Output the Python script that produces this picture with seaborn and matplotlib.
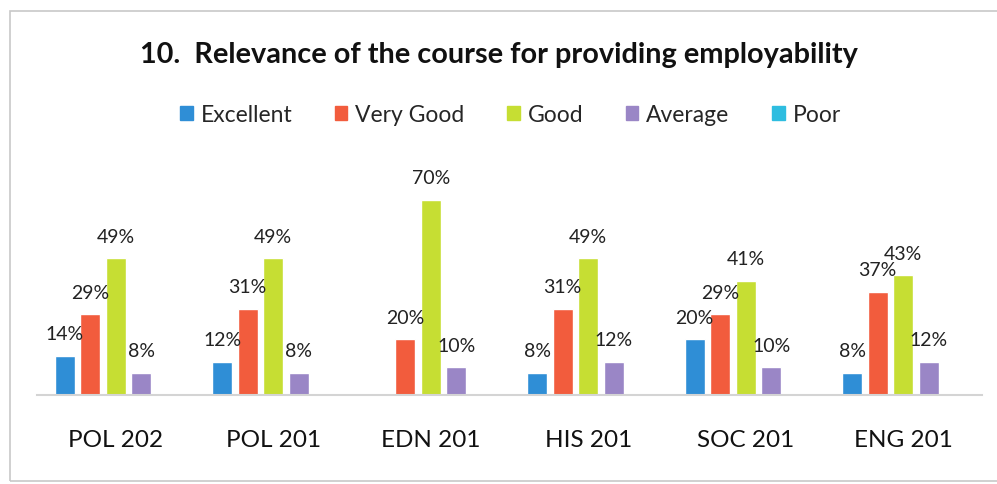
import matplotlib
matplotlib.use("Agg")
import matplotlib.pyplot as plt
import seaborn as sns
import pandas as pd
from matplotlib.patches import Rectangle

categories = ["POL 202", "POL 201", "EDN 201", "HIS 201", "SOC 201", "ENG 201"]
series = ["Excellent", "Very Good", "Good", "Average", "Poor"]
excellent = [14, 12, 0, 8, 20, 8]
very_good = [29, 31, 20, 31, 29, 37]
good = [49, 49, 70, 49, 41, 43]
average = [8, 8, 10, 12, 10, 12]
poor = [0, 0, 0, 0, 0, 0]
colors = ["#2F8ED6", "#F25C3D", "#C6DE33", "#9A86C6", "#2EBDE0"]

values = [excellent, very_good, good, average, poor]
rows = []
for s, vals in zip(series, values):
    for c, v in zip(categories, vals):
        rows.append({"Course": c, "Rating": s, "Value": v})
df = pd.DataFrame(rows)

sns.set_theme(style="white")
plt.rcParams["font.family"] = ["Lato", "DejaVu Sans"]

fig = plt.figure(figsize=(9.97, 4.84), dpi=100)
ax = fig.add_axes([37 / 997, 1 - 395 / 484, 945 / 997, 223 / 484])

sns.barplot(data=df, x="Course", y="Value", hue="Rating", hue_order=series,
            palette=colors, width=0.81, gap=0.22, ax=ax, legend=False,
            saturation=1)

ax.set_ylim(0, 80)
ax.set_xlim(-0.5, len(categories) - 0.5)
ax.set_xlabel("")
ax.set_ylabel("")
ax.set_yticks([])
for sp in ["top", "right", "left"]:
    ax.spines[sp].set_visible(False)
ax.spines["bottom"].set_color("#d4d4d4")
ax.spines["bottom"].set_linewidth(1.5)
ax.tick_params(axis="x", length=0, pad=25, labelsize=17.5, labelcolor="#111111")

for container in ax.containers:
    labels = [f"{int(round(v))}%" if v > 0 else "" for v in container.datavalues]
    ax.bar_label(container, labels=labels, padding=9, fontsize=14, color="#222222")

fig.text(0.5, 1 - 55 / 484, "10.  Relevance of the course for providing employability",
         ha="center", va="center", fontsize=20.8, fontweight="bold", color="#111111")

handles = [Rectangle((0, 0), 1, 1, color=c) for c in colors]
fig.legend(handles, series, loc="center", bbox_to_anchor=(0.512, 1 - 115 / 484),
           ncol=5, frameon=False, fontsize=16.5, handlelength=0.55, handleheight=0.55,
           handletextpad=0.35, columnspacing=1.85)

fig.patches.append(Rectangle((10 / 997, 3 / 484), 1.5, 470 / 484, transform=fig.transFigure,
                             fill=False, edgecolor="#c8c8c8", linewidth=1.2))

fig.savefig("out.png", dpi=100, facecolor="white")
